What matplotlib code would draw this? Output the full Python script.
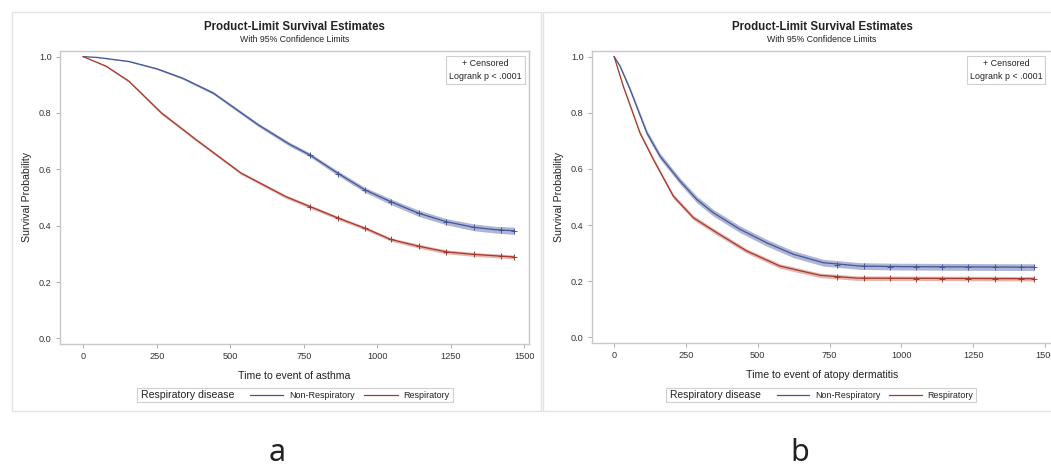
import matplotlib
matplotlib.use("Agg")
import matplotlib.pyplot as plt
from matplotlib.lines import Line2D
from matplotlib.patches import Rectangle

plt.rcParams["font.family"] = ["Liberation Sans", "DejaVu Sans"]

# --- data ---
# panel a : asthma
a_non_t = [0, 50, 155, 250, 337, 442, 595, 700, 771, 860, 958, 1046, 1141, 1235, 1329, 1400, 1464]
a_non_s = [1.0, 0.997, 0.983, 0.957, 0.924, 0.871, 0.758, 0.690, 0.651, 0.590, 0.527, 0.485, 0.444, 0.414, 0.394, 0.386, 0.382]
a_non_ci = [0.0, 0.001, 0.002, 0.003, 0.004, 0.005, 0.006, 0.007, 0.007, 0.008, 0.009, 0.010, 0.011, 0.011, 0.012, 0.012, 0.013]
a_res_t = [0, 78, 155, 266, 384, 536, 689, 773, 867, 965, 1046, 1141, 1235, 1329, 1464]
a_res_s = [1.0, 0.966, 0.913, 0.800, 0.705, 0.587, 0.503, 0.467, 0.427, 0.388, 0.351, 0.327, 0.307, 0.298, 0.289]
a_res_ci = [0.0, 0.003, 0.004, 0.005, 0.005, 0.005, 0.006, 0.006, 0.006, 0.006, 0.006, 0.007, 0.007, 0.007, 0.007]
a_cen_t = [771, 867, 958, 1046, 1141, 1235, 1329, 1420, 1464]
a_non_cen = [0.651, 0.585, 0.527, 0.485, 0.444, 0.414, 0.394, 0.386, 0.382]
a_res_cen = [0.467, 0.427, 0.390, 0.351, 0.327, 0.307, 0.298, 0.291, 0.289]

# panel b : atopy dermatitis
b_non_t = [0, 21, 56, 114, 160, 230, 288, 345, 438, 531, 624, 728, 857, 1000, 1460]
b_non_s = [1.0, 0.965, 0.882, 0.728, 0.645, 0.556, 0.491, 0.444, 0.385, 0.337, 0.296, 0.266, 0.254, 0.252, 0.250]
b_non_ci = [0.0, 0.005, 0.008, 0.010, 0.011, 0.011, 0.012, 0.012, 0.012, 0.012, 0.012, 0.012, 0.012, 0.012, 0.012]
b_res_t = [0, 32, 90, 137, 206, 276, 357, 461, 577, 717, 845, 1460]
b_res_s = [1.0, 0.894, 0.728, 0.633, 0.503, 0.426, 0.373, 0.308, 0.254, 0.221, 0.211, 0.209]
b_res_ci = [0.0, 0.005, 0.007, 0.007, 0.008, 0.008, 0.008, 0.008, 0.008, 0.008, 0.008, 0.008]
b_cen_t = [775, 868, 960, 1050, 1140, 1232, 1325, 1415, 1460]
b_non_cen = [0.258, 0.253, 0.252, 0.252, 0.250, 0.250, 0.250, 0.250, 0.250]
b_res_cen = [0.215, 0.211, 0.210, 0.209, 0.209, 0.209, 0.209, 0.209, 0.209]

x_ticks = [0, 250, 500, 750, 1000, 1250, 1500]
y_ticks = [0.0, 0.2, 0.4, 0.6, 0.8, 1.0]

BLUE = "#445694"
RED = "#A23A2E"
W, H = 1051, 468

fig = plt.figure(figsize=(W / 100, H / 100), dpi=100)
fig.patch.set_facecolor("white")


def px(x0, y0, x1, y1):
    # pixel box (top-left origin) -> figure fraction rect
    return [x0 / W, 1 - y1 / H, (x1 - x0) / W, (y1 - y0) / H]


# panel frames
for x0, x1 in [(11.5, 541), (543, 1056)]:
    fig.patches.append(Rectangle((x0 / W, 1 - 411 / H), (x1 - x0) / W, (411 - 12) / H,
                                 transform=fig.transFigure, fill=False,
                                 edgecolor="#E3E3E3", linewidth=1.0))


def panel(rect, xlim, xlab, non, res, cen, lx0, k, inset_x):
    ax = fig.add_axes(rect)
    for (t, s, ci), c, fc in [(non, BLUE, "#9AA3CC"), (res, RED, "#E0A39B")]:
        lo = [v - d for v, d in zip(s, ci)]
        hi = [v + d for v, d in zip(s, ci)]
        ax.fill_between(t, lo, hi, color=fc, alpha=0.8, linewidth=0)
        ax.plot(t, s, color=c, linewidth=0.9)
    ct, cn, cr = cen
    ax.plot(ct, cn, linestyle="none", marker="+", color=BLUE, markersize=4, mew=0.7)
    ax.plot(ct, cr, linestyle="none", marker="+", color=RED, markersize=4, mew=0.7)

    ax.set_xlim(*xlim)
    ax.set_ylim(-0.020, 1.020)
    ax.set_xticks(x_ticks)
    ax.set_yticks(y_ticks)
    ax.set_yticklabels([f"{v:.1f}" for v in y_ticks])
    for sp in ax.spines.values():
        sp.set_color("#C8C8C8")
        sp.set_linewidth(1.0)
    ax.tick_params(length=3, width=0.6, color="#A0A0A0", labelsize=6.6,
                   labelcolor="#333333", pad=3)
    ax.set_xlabel(xlab, fontsize=7.6, color="#222222", labelpad=7)
    ax.set_ylabel("Survival Probability", fontsize=7.6, color="#222222", labelpad=5)

    ax.text(inset_x, 0.972, "+ Censored\nLogrank p < .0001", transform=ax.transAxes,
            ha="right", va="top", fontsize=6.4, color="#222222", multialignment="center",
            linespacing=1.5,
            bbox=dict(boxstyle="square,pad=0.35", facecolor="white", edgecolor="#D0D0D0",
                      linewidth=0.8))

    cx = (rect[0] + rect[2] / 2) * W
    fig.text(cx / W, 1 - 27 / H, "Product-Limit Survival Estimates", ha="center",
             va="center", fontsize=8.3, fontweight="bold", color="#222222")
    fig.text(cx / W, 1 - 39 / H, "With 95% Confidence Limits", ha="center",
             va="center", fontsize=6.3, color="#222222")

    # bottom legend drawn by hand
    fig.patches.append(Rectangle((lx0 / W, 1 - 402 / H), 310 * k / W, 14 / H,
                                 transform=fig.transFigure, fill=False,
                                 edgecolor="#D0D0D0", linewidth=0.8))
    yl = 1 - 395 / H
    fig.text((lx0 + 4 * k) / W, yl, "Respiratory disease", fontsize=7.4 * k, va="center",
             color="#222222")
    fig.lines.append(Line2D([(lx0 + 111 * k) / W, (lx0 + 143 * k) / W], [yl, yl],
                            transform=fig.transFigure, color=BLUE, linewidth=0.9))
    fig.text((lx0 + 149 * k) / W, yl, "Non-Respiratory", fontsize=6.4 * k, va="center",
             color="#222222")
    fig.lines.append(Line2D([(lx0 + 223 * k) / W, (lx0 + 256 * k) / W], [yl, yl],
                            transform=fig.transFigure, color=RED, linewidth=0.9))
    fig.text((lx0 + 261 * k) / W, yl, "Respiratory", fontsize=6.4 * k, va="center",
             color="#222222")
    return ax


panel(px(60, 51, 529.3, 344), (-79, 1517), "Time to event of asthma",
      (a_non_t, a_non_s, a_non_ci), (a_res_t, a_res_s, a_res_ci),
      (a_cen_t, a_non_cen, a_res_cen), 137, 1.02, 0.984)
panel(px(592, 51, 1052, 343), (-77, 1524), "Time to event of atopy dermatitis",
      (b_non_t, b_non_s, b_non_ci), (b_res_t, b_res_s, b_res_ci),
      (b_cen_t, b_non_cen, b_res_cen), 666, 1.0, 0.979)

fig.text(277 / W, 1 - 461 / H, "a", ha="center", va="baseline", fontsize=22,
         color="#222222", family=["Noto Sans", "DejaVu Sans"])
fig.text(800 / W, 1 - 461 / H, "b", ha="center", va="baseline", fontsize=22,
         color="#222222", family=["Noto Sans", "DejaVu Sans"])

fig.savefig("out.png", dpi=100)
